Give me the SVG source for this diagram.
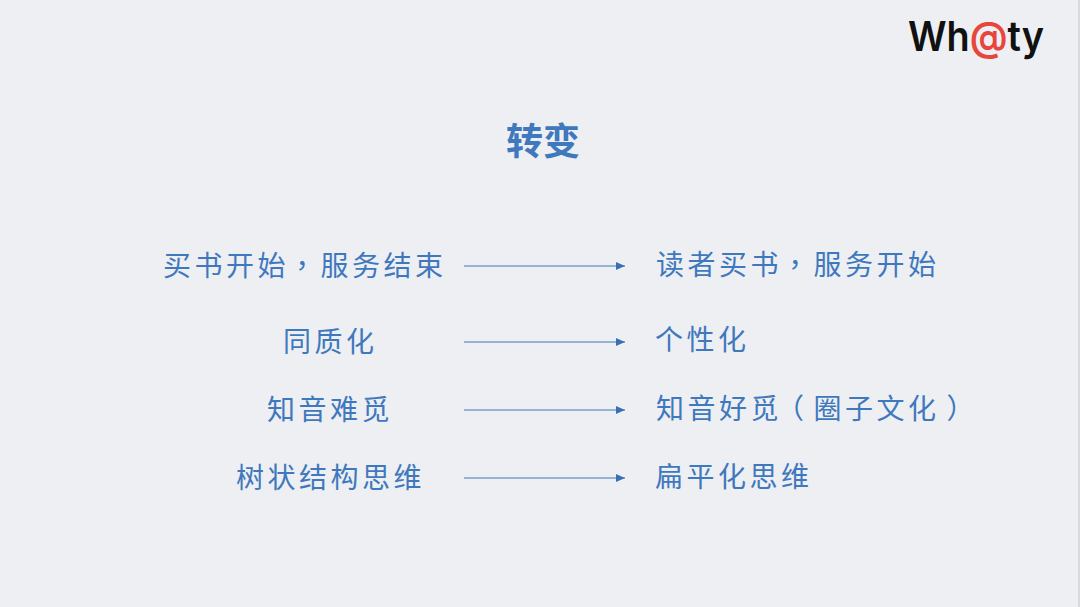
<svg xmlns="http://www.w3.org/2000/svg" width="1080" height="607" viewBox="0 0 1080 607">
<style>
.t{font-family:"Noto Sans CJK SC","Liberation Sans",sans-serif;font-size:28px;fill:#3f78bd;letter-spacing:3.5px}
.p{font-family:"Noto Sans CJK TC","Liberation Sans",sans-serif}
.c{stroke:#3f78bd;stroke-width:1;fill:none;marker-end:url(#a)}
.logo{font-family:"Inter","Liberation Sans",sans-serif;font-size:41px;font-weight:600}
</style>
<defs><marker id="a" markerUnits="userSpaceOnUse" markerWidth="10" markerHeight="9" refX="9" refY="4.500" orient="auto"><path d="M0 .5L9 4.500L0 8.500Z" fill="#3a70b2"/></marker></defs>
<rect width="1080" height="607" fill="#edeff3"/>
<rect x="1078" width="2" height="607" fill="#d8d9dd"/>
<g id="logo"><text x="908" y="51" class="logo" textLength="136" lengthAdjust="spacingAndGlyphs"><tspan fill="#111">Wh</tspan><tspan fill="#e8453c">@</tspan><tspan fill="#111">ty</tspan></text></g>
<g id="title"><text x="543" y="155" text-anchor="middle" style="font-family:'Noto Sans CJK SC',sans-serif;font-size:37px;font-weight:700;fill:#3f78bd">转变</text></g>
<g id="l1"><text x="163" y="276" class="t">买书开始<tspan class="p" dx="-1">，</tspan><tspan dx="1">服务结束</tspan></text></g>
<g id="r1"><text x="656" y="275" class="t">读者买书<tspan class="p" dx="-1">，</tspan><tspan dx="1">服务开始</tspan></text></g>
<g id="l2"><text x="283" y="352" class="t">同质化</text></g>
<g id="r2"><text x="655" y="350" class="t">个性化</text></g>
<g id="l3"><text x="267" y="420" class="t">知音难觅</text></g>
<g id="r3"><text x="656" y="419" class="t">知音好觅<tspan class="p" dx="-6">（</tspan><tspan dx="6">圈子文化</tspan><tspan class="p" dx="7">）</tspan></text></g>
<g id="l4"><text x="236" y="488" class="t">树状结构思维</text></g>
<g id="r4"><text x="655" y="487" class="t">扁平化思维</text></g>
<g id="connectors">
<path class="c" d="M464 266H625"/><path class="c" d="M464 342H625"/><path class="c" d="M464 410H625"/><path class="c" d="M464 478H625"/>
</g>
</svg>
